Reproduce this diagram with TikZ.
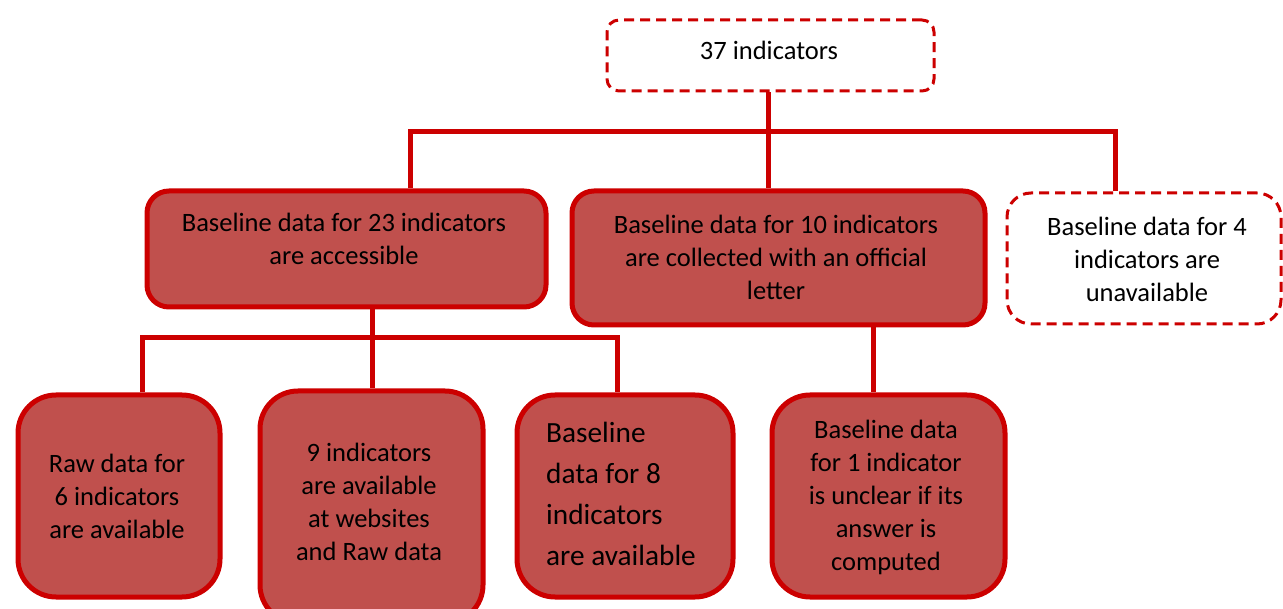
\documentclass[tikz,border=0pt]{standalone}
\usepackage{fontspec}
\setmainfont{Carlito}
\definecolor{boxfill}{HTML}{C0504D}
\definecolor{boxline}{HTML}{CC0000}
\begin{document}
\begin{tikzpicture}[x=1pt,y=-1pt,
  solidbox/.style={draw=boxline, fill=boxfill, line width=5pt, rectangle,
    inner sep=0pt, anchor=north west},
  dashbox/.style={draw=boxline, fill=white, line width=3pt, rectangle,
    dash pattern=on 10pt off 6pt, inner sep=0pt, anchor=north west},
  txt/.style={font=\fontsize{26.5}{33}\selectfont, align=center, inner sep=0pt},
  link/.style={draw=boxline, line width=5pt, line join=miter}
]
\useasboundingbox (0,0) rectangle (1283,609);

% junction points of the connector bars
\coordinate (k0) at (768,132);
\coordinate (k1) at (410,132);
\coordinate (k3) at (1115,132);
\coordinate (m1) at (142,338);
\coordinate (m2) at (372,338);
\coordinate (m3) at (617,338);
\coordinate (m4) at (873,338);

% boxes (positions and sizes are those of the stroke centre line)
\node[dashbox, rounded corners=12pt, minimum width=327pt, minimum height=71pt] (top) at (605.5,18.5) {};
\node[solidbox, rounded corners=22pt, minimum width=399pt, minimum height=116pt] (b1) at (144.5,188.5) {};
\node[solidbox, rounded corners=22pt, minimum width=413pt, minimum height=134pt] (b2) at (569.5,188.5) {};
\node[dashbox, rounded corners=24pt, minimum width=274pt, minimum height=131pt] (b3) at (1005.5,191.5) {};
\node[solidbox, rounded corners=38pt, minimum width=202pt, minimum height=202pt] (bA) at (15.5,392.5) {};
\node[solidbox, rounded corners=38pt, minimum width=223pt, minimum height=232pt] (bB) at (257.5,388.5) {};
\node[solidbox, rounded corners=38pt, minimum width=216pt, minimum height=202pt] (bC) at (514.5,392.5) {};
\node[solidbox, rounded corners=38pt, minimum width=233pt, minimum height=202pt] (bD) at (769.5,392.5) {};

% connectors
\draw[link] (k0 |- top.south) -- (k0 |- b2.north);
\draw[link] (k1 |- b1.north) -- (k1) -- (k3) -- (k3 |- b3.north);
\draw[link] (m2 |- b1.south) -- (m2 |- bB.north);
\draw[link] (m1 |- bA.north) -- (m1) -- (m3) -- (m3 |- bC.north);
\draw[link] (m4 |- b2.south) -- (m4 |- bD.north);

% labels
\node[txt] (t0) at (769,50) {37 indicators};
\node[txt] (t1) at (344,239) {Baseline data for 23 indicators\\are accessible};
\node[txt] (t2) at (776,257) {Baseline data for 10 indicators\\are collected with an official\\letter};
\node[txt] (t3) at (1147,259) {Baseline data for 4\\indicators are\\unavailable};
\node[txt] (tA) at (117,496) {Raw data for\\6 indicators\\are available};
\node[txt] (tB) at (369,502) {9 indicators\\are available\\at websites\\and Raw data};
\node[txt, align=left, anchor=west, font=\fontsize{29.3}{41}\selectfont] (tC) at (546,494) {Baseline\\data for 8\\indicators\\are available};
\node[txt] (tD) at (886,497) {Baseline data\\for 1 indicator\\is unclear if its\\answer is\\computed};
\end{tikzpicture}
\end{document}
